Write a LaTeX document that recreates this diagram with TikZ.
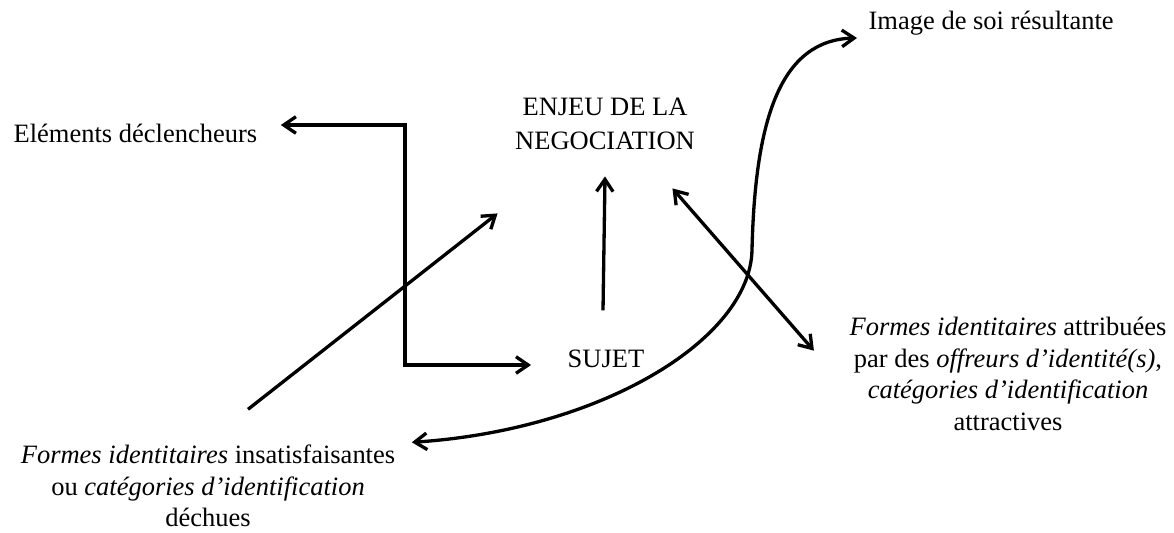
\documentclass[tikz,border=0pt]{standalone}
\usepackage{fontspec}
\setmainfont{Liberation Serif}
\usetikzlibrary{arrows.meta,calc}
\begin{document}
\begin{tikzpicture}[>={Straight Barb[length=5.5pt,width=7.5pt]}, x=0.4529pt, y=-0.4529pt, line width=1.5pt,
  lbl/.style={inner sep=0pt, align=center, font=\fontsize{12}{14.3}\selectfont}]
\useasboundingbox (0,0) rectangle (1174,532);

\node[lbl, anchor=west] (declench) at (12,133) {Eléments déclencheurs};
\node[lbl, font=\fontsize{12}{15.3}\selectfont] (enjeu) at (605,124) {ENJEU DE LA\\NEGOCIATION};
\node[lbl] (sujet) at (606,359) {SUJET};
\node[lbl, anchor=west] (image) at (867,23) {Image de soi résultante};
\node[lbl] (forml) at (208,486) {\textit{Formes identitaires} insatisfaisantes\\ou \textit{catégories d’identification}\\déchues};
\node[lbl] (formr) at (1008,374) {\textit{Formes identitaires} attribuées\\par des \textit{offreurs d’identité(s)},\\\textit{catégories d’identification}\\attractives};
\coordinate (pivot) at (405,245);

\draw[<->] ($(declench.east)+(22,-8)$) -| (pivot) |- ($(sujet.west)+(-35,6)$);
\draw[->] ($(sujet.north)+(-3,-38)$) -- ($(enjeu.south)+(0,25)$);
\draw[->] ($(forml.north)+(40,-34)$) -- ($(enjeu.south west)+(-16,62)$);
\draw[<->] ($(enjeu.south east)+(-24,37)$) -- ($(formr.north west)+(-34,35)$);
\draw[<->] ($(forml.north east)+(15,-1)$) .. controls (600,430) and (750,340) .. (752,250)
  .. controls (755,120) and (780,40) .. ($(image.west)+(-10,15)$);

\end{tikzpicture}
\end{document}
